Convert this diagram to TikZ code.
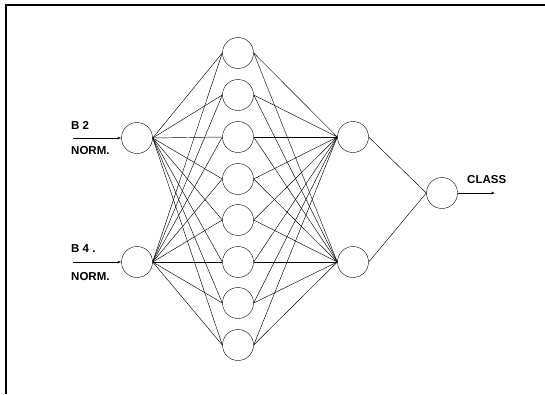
\documentclass[tikz,border=0pt]{standalone}
\usepackage{fontspec}
\setsansfont{Liberation Sans}
\usetikzlibrary{arrows.meta}
\begin{document}
\begin{tikzpicture}[x=1pt,y=-1pt]
            \useasboundingbox (0,0) rectangle (545,394);
            \draw[line width=1.4pt] (6,394) -- (6,5) -- (545,5);
            \begin{scope}[every node/.style={circle,draw,minimum size=31pt,inner sep=0pt,thin}]
                \node (i1) at (137,138) {};
                \node (i2) at (137,262) {};
                \node (h1) at (238,53) {};
                \node (h2) at (238,95) {};
                \node (h3) at (238,137) {};
                \node (h4) at (238,179) {};
                \node (h5) at (238,220) {};
                \node (h6) at (238,262) {};
                \node (h7) at (238,303) {};
                \node (h8) at (238,345) {};
                \node (o1) at (353,137) {};
                \node (o2) at (353,262) {};
                \node (c) at (442,193) {};
            \end{scope}
            \begin{scope}[every node/.style={anchor=west,font=\sffamily\bfseries\fontsize{11.5}{13}\selectfont,inner sep=0pt}]
                \node (b2) at (71,125) {B 2};
                \node (n2) at (71,151) {NORM.};
                \node (b4) at (71,249) {B 4 .};
                \node (n4) at (71,277) {NORM.};
                \node (cl) at (467,180) {CLASS};
            \end{scope}
            \coordinate (s1) at (73,138);
            \coordinate (s2) at (73,262);
            \coordinate (t) at (495,193);
            \begin{scope}[every edge/.style={draw=black,line width=0.45pt}]
                \path (i1.east) edge (h1.west);
                \path (i1.east) edge (h2.west);
                \path (i1.east) edge (h3.west);
                \path (i1.east) edge (h4.west);
                \path (i1.east) edge (h5.west);
                \path (i1.east) edge (h6.west);
                \path (i1.east) edge (h7.west);
                \path (i1.east) edge (h8.west);
                \path (i2.east) edge (h1.west);
                \path (i2.east) edge (h2.west);
                \path (i2.east) edge (h3.west);
                \path (i2.east) edge (h4.west);
                \path (i2.east) edge (h5.west);
                \path (i2.east) edge (h6.west);
                \path (i2.east) edge (h7.west);
                \path (i2.east) edge (h8.west);
                \path (h1.east) edge (o1.west);
                \path (h2.east) edge (o1.west);
                \path (h3.east) edge (o1.west);
                \path (h4.east) edge (o1.west);
                \path (h5.east) edge (o1.west);
                \path (h6.east) edge (o1.west);
                \path (h7.east) edge (o1.west);
                \path (h8.east) edge (o1.west);
                \path (h1.east) edge (o2.west);
                \path (h2.east) edge (o2.west);
                \path (h3.east) edge (o2.west);
                \path (h4.east) edge (o2.west);
                \path (h5.east) edge (o2.west);
                \path (h6.east) edge (o2.west);
                \path (h7.east) edge (o2.west);
                \path (h8.east) edge (o2.west);
                \path (o1.east) edge (c.west);
                \path (o2.east) edge (c.west);
            \end{scope}
            \begin{scope}[every edge/.style={draw=black,line width=0.7pt,-{Stealth[length=4pt,width=2.5pt]}}]
                \path (s1) edge (i1.west);
                \path (s2) edge (i2.west);
                \path (c.east) edge (t);
            \end{scope}
        \end{tikzpicture}
\end{document}
